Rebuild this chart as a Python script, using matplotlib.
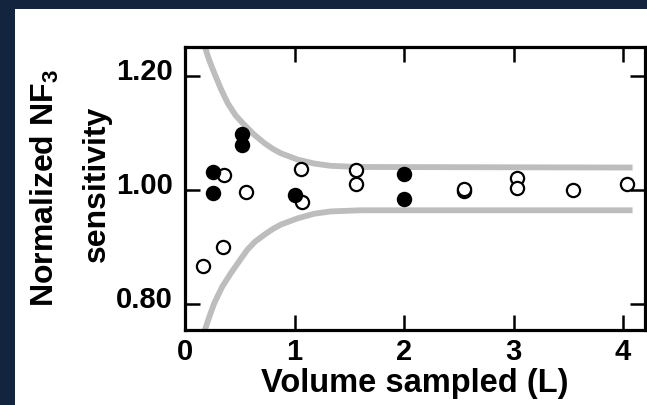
import matplotlib
matplotlib.use("Agg")
import matplotlib.pyplot as plt
from matplotlib.patches import Rectangle
from matplotlib.transforms import ScaledTranslation

plt.rcParams["font.family"] = ["Liberation Sans", "DejaVu Sans"]
plt.rcParams["font.weight"] = "bold"
plt.rcParams["mathtext.fontset"] = "custom"
plt.rcParams["mathtext.rm"] = "Liberation Sans:bold"
plt.rcParams["mathtext.bf"] = "Liberation Sans:bold"

# ----------------------------------------------------------
# Data
# ----------------------------------------------------------

# filled circles
filled_x = [0.26, 0.26, 0.52, 0.52, 1.00, 2.00, 2.00]
filled_y = [1.032, 0.995, 1.098, 1.079, 0.990, 1.027, 0.984]

# open circles
open_x = [0.16, 0.35, 0.36, 0.56, 1.06, 1.065, 1.56, 1.56,
          2.55, 2.55, 3.03, 3.03, 3.54, 4.035]
open_y = [0.867, 0.899, 1.026, 0.996, 1.037, 0.979, 1.034, 1.011,
          0.997, 1.001, 1.021, 1.003, 1.000, 1.011]

# grey envelope
upper_x = [0.176, 0.22, 0.267, 0.33, 0.39, 0.46, 0.541, 0.63, 0.724,
           0.80, 0.876, 1.028, 1.18, 1.33, 1.58, 4.087]
upper_y = [1.254, 1.228, 1.205, 1.176, 1.152, 1.131, 1.114, 1.097, 1.082,
           1.072, 1.064, 1.053, 1.046, 1.042, 1.040, 1.039]
lower_x = [0.176, 0.22, 0.267, 0.34, 0.42, 0.50, 0.57, 0.64, 0.724,
           0.80, 0.876, 1.03, 1.18, 1.33, 1.60, 4.087]
lower_y = [0.751, 0.776, 0.801, 0.830, 0.854, 0.876, 0.895, 0.909, 0.921,
           0.931, 0.939, 0.950, 0.958, 0.962, 0.964, 0.964]

x_ticks = [0, 1, 2, 3, 4]
y_ticks = [0.80, 1.00, 1.20]
y_tick_labels = ["0.80", "1.00", "1.20"]

# ----------------------------------------------------------
# Figure
# ----------------------------------------------------------

W, H = 647, 405
fig = plt.figure(figsize=(W / 100, H / 100), dpi=100, facecolor="#13243f")
fig.patches.append(Rectangle((15 / W, 0), 1, 1 - 9 / H, transform=fig.transFigure,
                             facecolor="white", edgecolor="none", zorder=-5))

ax = fig.add_axes([185 / W, 1 - 330 / H, (644.5 - 185) / W, (330 - 46.7) / H])
ax.set_facecolor("white")

ax.plot(upper_x, upper_y, color="#bdbdbd", lw=4.2, solid_capstyle="butt", zorder=1)
ax.plot(lower_x, lower_y, color="#bdbdbd", lw=4.2, solid_capstyle="butt", zorder=1)

ax.plot(open_x, open_y, "o", ms=9.5, mfc="white", mec="black", mew=1.6, zorder=3)
ax.plot(filled_x, filled_y, "o", ms=9.5, mfc="black", mec="black", mew=1.6, zorder=4)

ax.set_xlim(0, 4.196)
ax.set_ylim(0.754, 1.251)

ax.set_xticks(x_ticks)
ax.set_yticks(y_ticks)
ax.set_yticklabels(y_tick_labels)

ax.tick_params(direction="in", length=11, width=1.8, top=True, right=True,
               labelsize=21)
ax.tick_params(axis="y", pad=9)
ax.tick_params(axis="x", pad=5.5)

for s in ax.spines.values():
    s.set_linewidth(2.3)

# y tick labels sit a little above their ticks
for lab in ax.get_yticklabels():
    lab.set_transform(lab.get_transform() + ScaledTranslation(0, 7 / 100, fig.dpi_scale_trans))

ax.set_xlabel("Volume sampled (L)", fontsize=23.5, fontweight="bold")
ax.xaxis.set_label_coords(0.5, -0.135)

fig.text(45 / W, 1 - 188 / H, r"Normalized NF$_{3}$", rotation=90, fontsize=23,
         fontweight="bold", ha="center", va="center")
fig.text(97 / W, 1 - 184 / H, "sensitivity", rotation=90, fontsize=23,
         fontweight="bold", ha="center", va="center")

plt.savefig("out.png", dpi=100, facecolor=fig.get_facecolor())
